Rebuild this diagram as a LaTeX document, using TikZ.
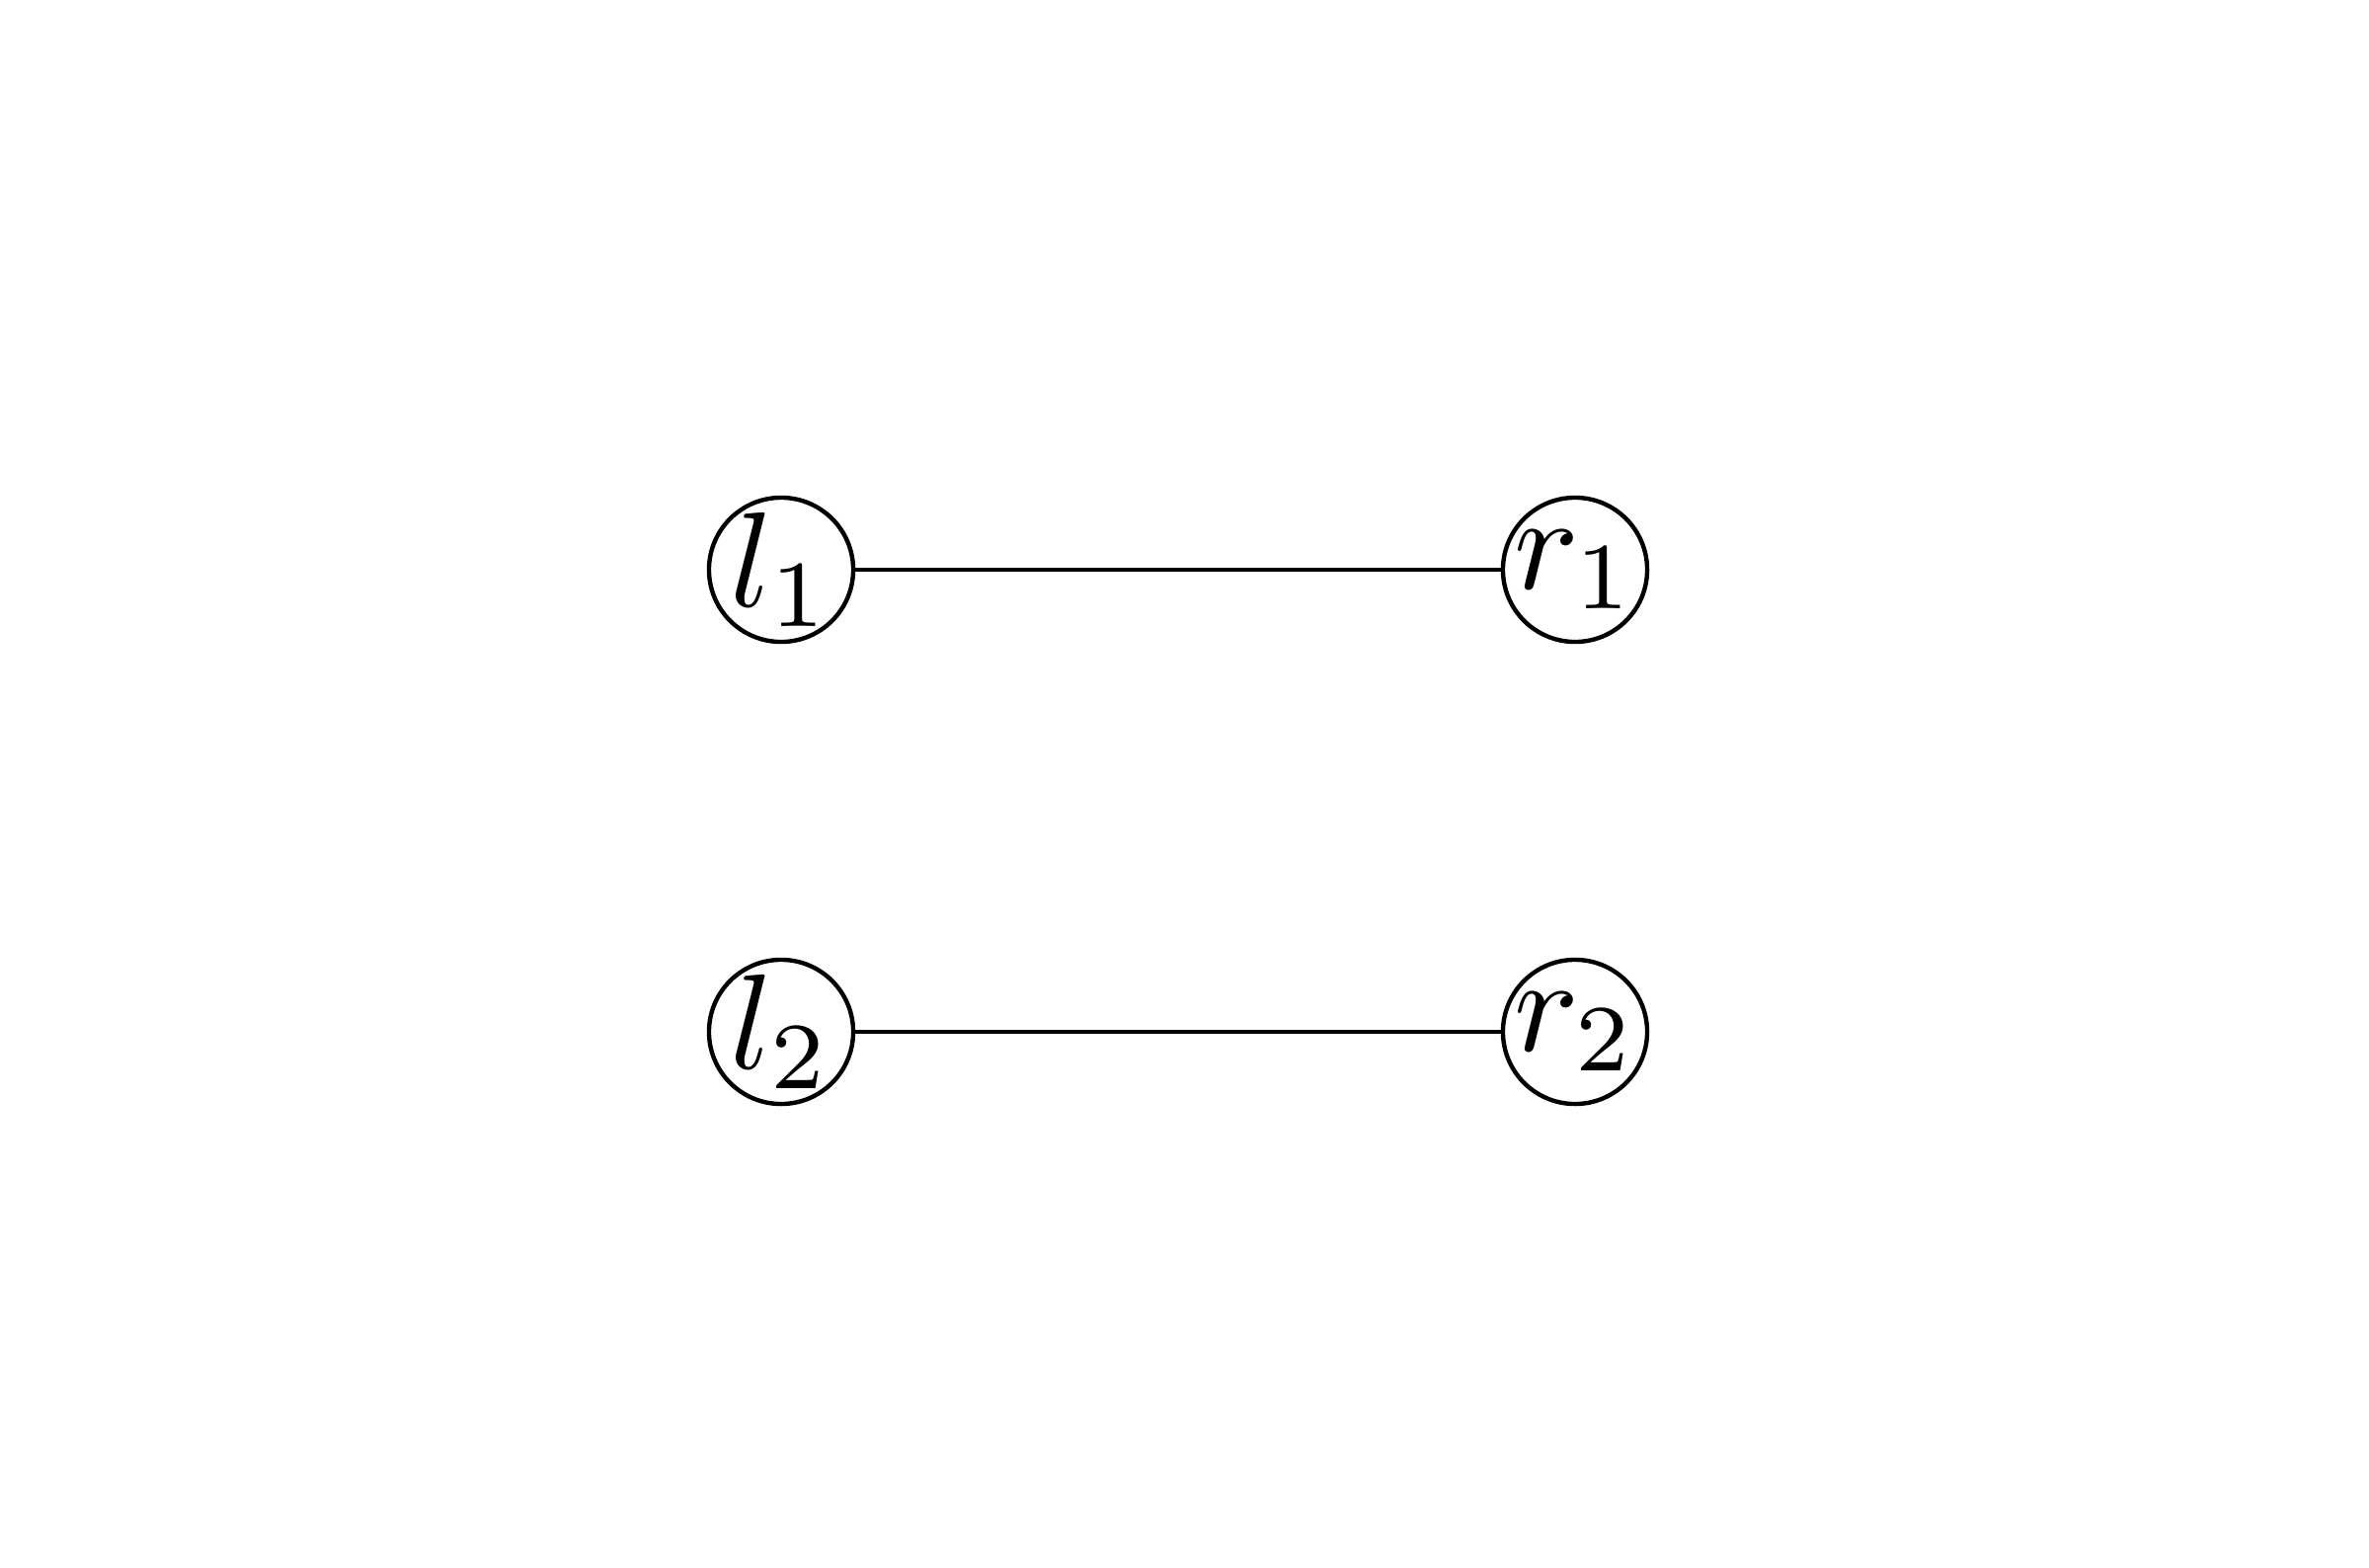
\documentclass[tikz,border=0pt]{standalone}
\usepackage{graphicx}
\newcommand{\vlabel}[1]{\makebox[0pt]{\scalebox{3.9}{$#1$}}}
\begin{document}
\begin{tikzpicture}[x=0.01cm,y=-0.01cm,
  vert/.style={circle,draw,line width=1.25pt,minimum size=1.46cm,inner sep=0pt},
  edge/.style={line width=1.2pt}]
\useasboundingbox (0,0) rectangle (2399,1587);
\node[vert] (l1) at (791,577) {\vlabel{l_1}};
\node[vert] (r1) at (1595,577) {\vlabel{r_1}};
\node[vert] (l2) at (791,1045) {\vlabel{l_2}};
\node[vert] (r2) at (1595,1045) {\vlabel{r_2}};
\draw[edge] (l1) -- (r1);
\draw[edge] (l2) -- (r2);
\end{tikzpicture}
\end{document}
